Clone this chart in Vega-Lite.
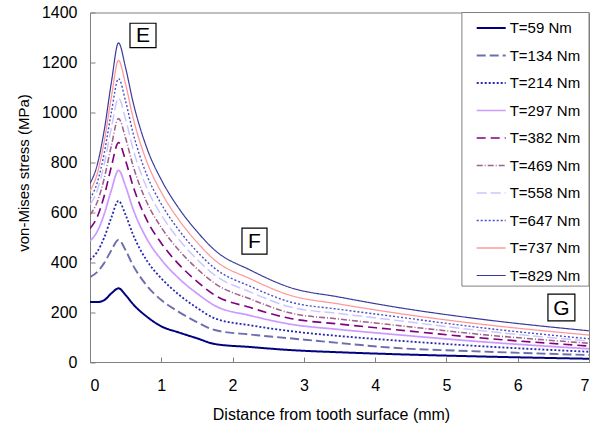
{
  "$schema": "https://vega.github.io/schema/vega-lite/v6.json",
  "width": 499,
  "height": 349.5,
  "autosize": {"type": "none"},
  "padding": {"left": 90, "top": 12.5, "right": 12, "bottom": 70},
  "background": "white",
  "config": {
    "font": "Liberation Sans",
    "view": {"stroke": "#808080", "strokeWidth": 1},
    "axis": {"grid": false, "labelFont": "Liberation Sans", "titleFont": "Liberation Sans", "labelColor": "#000000", "titleColor": "#000000", "titleFontWeight": "normal", "domainColor": "#808080", "tickColor": "#808080", "labelFontSize": 16, "titleFontSize": 16, "tickSize": -5},
    "legend": {"orient": "none", "legendX": 385.7, "legendY": 0, "symbolType": "stroke", "symbolSize": 841, "labelFontSize": 15, "labelFont": "Liberation Sans", "labelColor": "#000000", "padding": 0, "rowPadding": 3.5, "labelOffset": 3, "title": null}
  },
  "datasets": {
    "curves": [
      {"T":"T=59 Nm","x":0,"v":240},{"T":"T=59 Nm","x":0.1,"v":240},{"T":"T=59 Nm","x":0.2,"v":248},{"T":"T=59 Nm","x":0.3,"v":275},{"T":"T=59 Nm","x":0.4,"v":295},{"T":"T=59 Nm","x":0.5,"v":268},{"T":"T=59 Nm","x":0.6,"v":233},{"T":"T=59 Nm","x":0.8,"v":181},{"T":"T=59 Nm","x":1.0,"v":143},{"T":"T=59 Nm","x":1.25,"v":118},{"T":"T=59 Nm","x":1.5,"v":95},{"T":"T=59 Nm","x":1.75,"v":72},{"T":"T=59 Nm","x":2.25,"v":60},{"T":"T=59 Nm","x":2.8,"v":48},{"T":"T=59 Nm","x":3.5,"v":39},{"T":"T=59 Nm","x":4.2,"v":32},{"T":"T=59 Nm","x":5.5,"v":22},{"T":"T=59 Nm","x":7,"v":13},
      {"T":"T=134 Nm","x":0,"v":340},{"T":"T=134 Nm","x":0.1,"v":360},{"T":"T=134 Nm","x":0.2,"v":397},{"T":"T=134 Nm","x":0.3,"v":448},{"T":"T=134 Nm","x":0.4,"v":490},{"T":"T=134 Nm","x":0.5,"v":447},{"T":"T=134 Nm","x":0.6,"v":389},{"T":"T=134 Nm","x":0.8,"v":305},{"T":"T=134 Nm","x":1.0,"v":248},{"T":"T=134 Nm","x":1.25,"v":200},{"T":"T=134 Nm","x":1.5,"v":160},{"T":"T=134 Nm","x":1.75,"v":128},{"T":"T=134 Nm","x":2.25,"v":110},{"T":"T=134 Nm","x":2.8,"v":95},{"T":"T=134 Nm","x":3.5,"v":76},{"T":"T=134 Nm","x":4.2,"v":58},{"T":"T=134 Nm","x":5.5,"v":42},{"T":"T=134 Nm","x":7,"v":28},
      {"T":"T=214 Nm","x":0,"v":410},{"T":"T=214 Nm","x":0.1,"v":441},{"T":"T=214 Nm","x":0.2,"v":499},{"T":"T=214 Nm","x":0.3,"v":579},{"T":"T=214 Nm","x":0.4,"v":645},{"T":"T=214 Nm","x":0.5,"v":589},{"T":"T=214 Nm","x":0.6,"v":513},{"T":"T=214 Nm","x":0.8,"v":405},{"T":"T=214 Nm","x":1.0,"v":335},{"T":"T=214 Nm","x":1.25,"v":269},{"T":"T=214 Nm","x":1.5,"v":217},{"T":"T=214 Nm","x":1.75,"v":175},{"T":"T=214 Nm","x":2.25,"v":147},{"T":"T=214 Nm","x":2.8,"v":124},{"T":"T=214 Nm","x":3.5,"v":104},{"T":"T=214 Nm","x":4.2,"v":88},{"T":"T=214 Nm","x":5.5,"v":63},{"T":"T=214 Nm","x":7,"v":41},
      {"T":"T=297 Nm","x":0,"v":485},{"T":"T=297 Nm","x":0.1,"v":522},{"T":"T=297 Nm","x":0.2,"v":593},{"T":"T=297 Nm","x":0.3,"v":689},{"T":"T=297 Nm","x":0.4,"v":768},{"T":"T=297 Nm","x":0.5,"v":703},{"T":"T=297 Nm","x":0.6,"v":616},{"T":"T=297 Nm","x":0.8,"v":492},{"T":"T=297 Nm","x":1.0,"v":410},{"T":"T=297 Nm","x":1.25,"v":334},{"T":"T=297 Nm","x":1.5,"v":275},{"T":"T=297 Nm","x":1.75,"v":226},{"T":"T=297 Nm","x":2.25,"v":186},{"T":"T=297 Nm","x":2.8,"v":152},{"T":"T=297 Nm","x":3.5,"v":130},{"T":"T=297 Nm","x":4.2,"v":112},{"T":"T=297 Nm","x":5.5,"v":81},{"T":"T=297 Nm","x":7,"v":53},
      {"T":"T=382 Nm","x":0,"v":535},{"T":"T=382 Nm","x":0.1,"v":580},{"T":"T=382 Nm","x":0.2,"v":666},{"T":"T=382 Nm","x":0.3,"v":783},{"T":"T=382 Nm","x":0.4,"v":879},{"T":"T=382 Nm","x":0.5,"v":806},{"T":"T=382 Nm","x":0.6,"v":708},{"T":"T=382 Nm","x":0.8,"v":567},{"T":"T=382 Nm","x":1.0,"v":476},{"T":"T=382 Nm","x":1.25,"v":390},{"T":"T=382 Nm","x":1.5,"v":323},{"T":"T=382 Nm","x":1.75,"v":268},{"T":"T=382 Nm","x":2.25,"v":218},{"T":"T=382 Nm","x":2.8,"v":175},{"T":"T=382 Nm","x":3.5,"v":152},{"T":"T=382 Nm","x":4.2,"v":132},{"T":"T=382 Nm","x":5.5,"v":96},{"T":"T=382 Nm","x":7,"v":64},
      {"T":"T=469 Nm","x":0,"v":590},{"T":"T=469 Nm","x":0.1,"v":640},{"T":"T=469 Nm","x":0.2,"v":736},{"T":"T=469 Nm","x":0.3,"v":867},{"T":"T=469 Nm","x":0.4,"v":975},{"T":"T=469 Nm","x":0.5,"v":896},{"T":"T=469 Nm","x":0.6,"v":790},{"T":"T=469 Nm","x":0.8,"v":638},{"T":"T=469 Nm","x":1.0,"v":539},{"T":"T=469 Nm","x":1.25,"v":447},{"T":"T=469 Nm","x":1.5,"v":374},{"T":"T=469 Nm","x":1.75,"v":315},{"T":"T=469 Nm","x":2.25,"v":252},{"T":"T=469 Nm","x":2.8,"v":197},{"T":"T=469 Nm","x":3.5,"v":172},{"T":"T=469 Nm","x":4.2,"v":150},{"T":"T=469 Nm","x":5.5,"v":110},{"T":"T=469 Nm","x":7,"v":75},
      {"T":"T=558 Nm","x":0,"v":630},{"T":"T=558 Nm","x":0.1,"v":686},{"T":"T=558 Nm","x":0.2,"v":792},{"T":"T=558 Nm","x":0.3,"v":937},{"T":"T=558 Nm","x":0.4,"v":1057},{"T":"T=558 Nm","x":0.5,"v":972},{"T":"T=558 Nm","x":0.6,"v":858},{"T":"T=558 Nm","x":0.8,"v":695},{"T":"T=558 Nm","x":1.0,"v":589},{"T":"T=558 Nm","x":1.25,"v":490},{"T":"T=558 Nm","x":1.5,"v":412},{"T":"T=558 Nm","x":1.75,"v":348},{"T":"T=558 Nm","x":2.25,"v":280},{"T":"T=558 Nm","x":2.8,"v":221},{"T":"T=558 Nm","x":3.5,"v":194},{"T":"T=558 Nm","x":4.2,"v":170},{"T":"T=558 Nm","x":5.5,"v":125},{"T":"T=558 Nm","x":7,"v":84},
      {"T":"T=647 Nm","x":0,"v":655},{"T":"T=647 Nm","x":0.1,"v":717},{"T":"T=647 Nm","x":0.2,"v":837},{"T":"T=647 Nm","x":0.3,"v":1001},{"T":"T=647 Nm","x":0.4,"v":1135},{"T":"T=647 Nm","x":0.5,"v":1044},{"T":"T=647 Nm","x":0.6,"v":922},{"T":"T=647 Nm","x":0.8,"v":747},{"T":"T=647 Nm","x":1.0,"v":633},{"T":"T=647 Nm","x":1.25,"v":527},{"T":"T=647 Nm","x":1.5,"v":443},{"T":"T=647 Nm","x":1.75,"v":375},{"T":"T=647 Nm","x":2.25,"v":303},{"T":"T=647 Nm","x":2.8,"v":241},{"T":"T=647 Nm","x":3.5,"v":211},{"T":"T=647 Nm","x":4.2,"v":185},{"T":"T=647 Nm","x":5.5,"v":137},{"T":"T=647 Nm","x":7,"v":93},
      {"T":"T=737 Nm","x":0,"v":685},{"T":"T=737 Nm","x":0.1,"v":753},{"T":"T=737 Nm","x":0.2,"v":884},{"T":"T=737 Nm","x":0.3,"v":1062},{"T":"T=737 Nm","x":0.4,"v":1208},{"T":"T=737 Nm","x":0.5,"v":1112},{"T":"T=737 Nm","x":0.6,"v":984},{"T":"T=737 Nm","x":0.8,"v":800},{"T":"T=737 Nm","x":1.0,"v":680},{"T":"T=737 Nm","x":1.25,"v":568},{"T":"T=737 Nm","x":1.5,"v":480},{"T":"T=737 Nm","x":1.75,"v":408},{"T":"T=737 Nm","x":2.25,"v":333},{"T":"T=737 Nm","x":2.8,"v":268},{"T":"T=737 Nm","x":3.5,"v":232},{"T":"T=737 Nm","x":4.2,"v":200},{"T":"T=737 Nm","x":5.5,"v":151},{"T":"T=737 Nm","x":7,"v":108},
      {"T":"T=829 Nm","x":0,"v":715},{"T":"T=829 Nm","x":0.1,"v":788},{"T":"T=829 Nm","x":0.2,"v":929},{"T":"T=829 Nm","x":0.3,"v":1120},{"T":"T=829 Nm","x":0.4,"v":1278},{"T":"T=829 Nm","x":0.5,"v":1178},{"T":"T=829 Nm","x":0.6,"v":1046},{"T":"T=829 Nm","x":0.8,"v":855},{"T":"T=829 Nm","x":1.0,"v":730},{"T":"T=829 Nm","x":1.25,"v":614},{"T":"T=829 Nm","x":1.5,"v":523},{"T":"T=829 Nm","x":1.75,"v":448},{"T":"T=829 Nm","x":2.25,"v":368},{"T":"T=829 Nm","x":2.8,"v":299},{"T":"T=829 Nm","x":3.5,"v":260},{"T":"T=829 Nm","x":4.2,"v":224},{"T":"T=829 Nm","x":5.5,"v":171},{"T":"T=829 Nm","x":7,"v":125}
    ],
    "labels": [
      {"label":"E","x1":0.561,"x2":0.926,"y1":1259,"y2":1357,"xc":0.743,"yc":1308},
      {"label":"F","x1":2.132,"x2":2.483,"y1":432,"y2":536,"xc":2.307,"yc":484},
      {"label":"G","x1":6.424,"x2":6.802,"y1":165,"y2":272,"xc":6.613,"yc":218}
    ],
    "legendbox": [
      {"x1": 5.217, "x2": 7, "y1": 304, "y2": 1400}
    ]
  },
  "layer": [
    {
      "data": {"name": "curves"},
      "mark": {"type": "line", "interpolate": "monotone", "clip": true},
      "encoding": {
        "x": {"field": "x", "type": "quantitative", "scale": {"domain": [0, 7], "nice": false}, "axis": {"values": [0,1,2,3,4,5,6,7], "format": "d", "title": "Distance from tooth surface (mm)", "labelPadding": 20, "titleX": 241, "titleY": 52, "titleBaseline": "middle"}},
        "y": {"field": "v", "type": "quantitative", "scale": {"domain": [0, 1400], "nice": false}, "axis": {"values": [0,200,400,600,800,1000,1200,1400], "format": "d", "title": "von-Mises stress (MPa)", "labelPadding": 18, "titleX": -59, "titleY": 160, "titleAlign": "center", "titleFontSize": 15}},
        "color": {"field": "T", "type": "nominal", "scale": {"domain": ["T=59 Nm","T=134 Nm","T=214 Nm","T=297 Nm","T=382 Nm","T=469 Nm","T=558 Nm","T=647 Nm","T=737 Nm","T=829 Nm"], "range": ["#000080","#6e6eae","#2a2ab0","#cc99ff","#800080","#a0628c","#c8c8ff","#4a4ac8","#ff9999","#3a3a9e"]}},
        "strokeDash": {"field": "T", "type": "nominal", "scale": {"domain": ["T=59 Nm","T=134 Nm","T=214 Nm","T=297 Nm","T=382 Nm","T=469 Nm","T=558 Nm","T=647 Nm","T=737 Nm","T=829 Nm"], "range": [[1,0],[9,4],[2,2],[1,0],[9,5],[6,2,1,2],[10,4],[2,2],[1,0],[1,0]]}},
        "strokeWidth": {"field": "T", "type": "nominal", "scale": {"domain": ["T=59 Nm","T=134 Nm","T=214 Nm","T=297 Nm","T=382 Nm","T=469 Nm","T=558 Nm","T=647 Nm","T=737 Nm","T=829 Nm"], "range": [2,1.2,1,3,2.5,1,1.5,1,3.5,1]}}
      }
    },
    {
      "data": {"name": "legendbox"},
      "mark": {"type": "rect", "fill": "white", "stroke": "#808080", "strokeWidth": 1},
      "encoding": {
        "x": {"field": "x1", "type": "quantitative"},
        "x2": {"field": "x2"},
        "y": {"field": "y1", "type": "quantitative"},
        "y2": {"field": "y2"}
      }
    },
    {
      "data": {"name": "labels"},
      "mark": {"type": "rect", "fill": "white", "stroke": "#000000", "strokeWidth": 1.2},
      "encoding": {
        "x": {"field": "x1", "type": "quantitative"},
        "x2": {"field": "x2"},
        "y": {"field": "y1", "type": "quantitative"},
        "y2": {"field": "y2"}
      }
    },
    {
      "data": {"name": "labels"},
      "mark": {"type": "text", "fontSize": 21, "font": "Liberation Sans", "color": "#000000", "baseline": "middle", "align": "center", "dy": 1},
      "encoding": {
        "x": {"field": "xc", "type": "quantitative"},
        "y": {"field": "yc", "type": "quantitative"},
        "text": {"field": "label"}
      }
    }
  ]
}
